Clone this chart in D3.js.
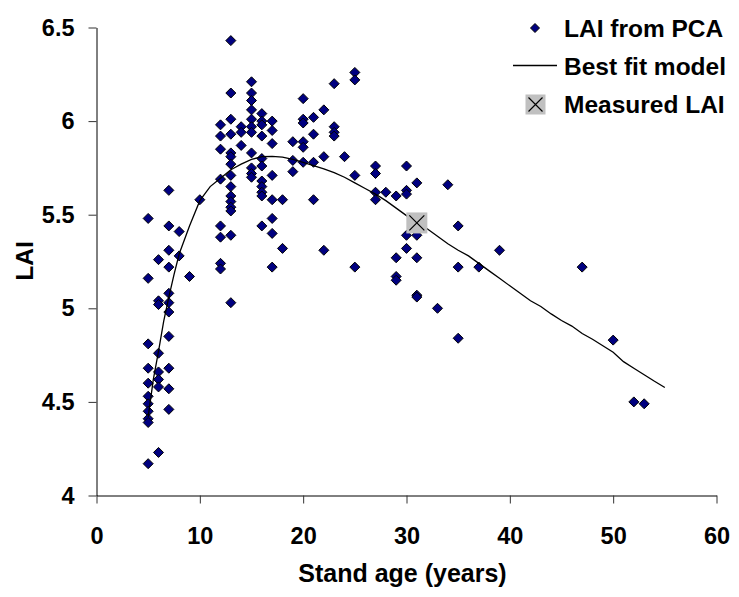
<!DOCTYPE html>
<html>
<head>
<meta charset="utf-8">
<script src="https://cdn.jsdelivr.net/npm/d3@7"></script>
<style>
  body { margin: 0; background: #fff; }
  text { font-family: "Liberation Sans", Arial, sans-serif; font-weight: bold; fill: #000; }
</style>
</head>
<body>
<div id="scatter"></div>
<script>
// LAI from PCA, grouped by stand age (years)
var pcaAges = [5, 6, 7, 8, 9, 10, 12, 13, 14, 15, 16, 17, 18, 19, 20, 21, 22, 23, 24, 25, 27, 28, 29, 30, 31, 33, 34, 35, 37, 39, 47, 50, 52, 53];
var pcaLai = [
    [5.48, 5.16, 4.81, 4.68, 4.60, 4.53, 4.49, 4.45, 4.41, 4.39, 4.17],
    [5.26, 5.04, 5.02, 4.76, 4.66, 4.62, 4.58, 4.23],
    [5.63, 5.44, 5.31, 5.22, 5.08, 5.03, 4.98, 4.85, 4.68, 4.57, 4.46],
    [5.41, 5.28],
    [5.17],
    [5.58],
    [5.98, 5.92, 5.85, 5.69, 5.44, 5.38, 5.24, 5.21],
    [6.43, 6.15, 6.01, 5.93, 5.83, 5.81, 5.77, 5.71, 5.65, 5.60, 5.57, 5.54, 5.52, 5.39, 5.03],
    [5.97, 5.94, 5.87],
    [6.21, 6.15, 6.11, 6.06, 6.01, 5.97, 5.94, 5.83, 5.75, 5.72, 5.70],
    [6.04, 6.00, 5.98, 5.92, 5.80, 5.76, 5.68, 5.65, 5.62, 5.60, 5.44],
    [6.00, 5.95, 5.88, 5.71, 5.58, 5.48, 5.40, 5.22],
    [5.58, 5.32],
    [5.89, 5.79, 5.73],
    [6.12, 6.01, 5.99, 5.89, 5.86, 5.78],
    [6.02, 5.93, 5.78, 5.58],
    [6.06, 5.81, 5.31],
    [6.20, 5.97, 5.94, 5.92],
    [5.81],
    [6.26, 6.22, 5.71, 5.22],
    [5.76, 5.72, 5.62, 5.58],
    [5.62],
    [5.60, 5.27, 5.17, 5.15],
    [5.76, 5.63, 5.61, 5.39, 5.32],
    [5.67, 5.39, 5.27, 5.07, 5.06],
    [5.00],
    [5.66],
    [5.44, 5.22, 4.84],
    [5.22],
    [5.31],
    [5.22],
    [4.83],
    [4.50],
    [4.49]
];

// best fit model
var modelAge = [5, 5.5, 6, 6.5, 7, 7.5, 8, 9, 10, 11, 12, 13, 14, 15, 16, 17, 18, 19, 20, 21, 22, 23, 24, 25, 26, 27, 28, 29, 30, 31, 32, 33, 34, 35, 36, 37, 38, 39, 40, 41, 42, 43, 44, 45, 46, 47, 48, 49, 50, 51, 52, 53, 54, 55];
var modelLai = [4.42, 4.62, 4.77, 4.93, 5.06, 5.18, 5.29, 5.44, 5.575, 5.65, 5.695, 5.74, 5.77, 5.795, 5.81, 5.812, 5.808, 5.795, 5.78, 5.762, 5.745, 5.725, 5.70, 5.67, 5.64, 5.61, 5.575, 5.535, 5.495, 5.455, 5.425, 5.385, 5.345, 5.31, 5.28, 5.24, 5.20, 5.16, 5.12, 5.08, 5.04, 5.01, 4.97, 4.935, 4.905, 4.865, 4.835, 4.80, 4.765, 4.715, 4.68, 4.645, 4.61, 4.577];

var measuredAge = [31];
var measuredLai = [5.456];

var xTicks = [0, 10, 20, 30, 40, 50, 60];
var yTicks = [4, 4.5, 5, 5.5, 6, 6.5];

var legendLabels = ["LAI from PCA", "Best fit model", "Measured LAI"];

// margins + size
var baseWidth = 739;
var baseHeight = 597;
var margin = {top: 27.5, right: 22.5, bottom: 101.5, left: 96.5},
    width = baseWidth - margin.left - margin.right,
    height = baseHeight - margin.top - margin.bottom;

var root = d3.select("#scatter")
    .append("svg")
    .attr("width", baseWidth)
    .attr("height", baseHeight);

var svg = root.append("g")
    .attr("transform", "translate(" + margin.left + "," + margin.top + ")");

var x = d3.scaleLinear().domain([0, 60]).range([0, width]);
var y = d3.scaleLinear().domain([4, 6.5]).range([height, 0]);

// axes
var xAxis = svg.append("g")
    .attr("transform", "translate(0," + height + ")")
    .call(d3.axisBottom(x).tickValues(xTicks).tickSize(8).tickSizeOuter(0).tickPadding(23.5).tickFormat(d => d));

var yAxis = svg.append("g")
    .call(d3.axisLeft(y).tickValues(yTicks).tickSize(8).tickSizeOuter(0).tickPadding(14).tickFormat(d => d));

[xAxis, yAxis].forEach(a => {
    a.select(".domain").attr("stroke", "#000");
    a.selectAll(".tick line").attr("stroke", "#333");
    a.selectAll(".tick text").style("font-size", "23.5px").attr("fill", "#000");
});

// points
var diamond = "M0,-5L5,0L0,5L-5,0Z";
var points = [];
pcaAges.forEach((age, i) => pcaLai[i].forEach(v => points.push({age: age, lai: v})));

svg.selectAll("path.point")
    .data(points)
    .enter()
    .append("path")
    .attr("class", "point")
    .attr("d", diamond)
    .attr("transform", d => "translate(" + x(d.age) + "," + y(d.lai) + ")")
    .style("fill", "#000080")
    .style("stroke", "#000")
    .style("stroke-width", 1);

// model line
var model = modelAge.map((a, i) => ({age: a, lai: modelLai[i]}));
svg.append("path")
    .datum(model)
    .attr("fill", "none")
    .attr("stroke", "#000")
    .attr("stroke-width", 1.3)
    .attr("d", d3.line().x(d => x(d.age)).y(d => y(d.lai)));

// measured LAI
function crossBox(g, s) {
    g.append("rect")
        .attr("x", -s / 2).attr("y", -s / 2)
        .attr("width", s).attr("height", s)
        .style("fill", "#c0c0c0");
    var k = s / 2 - 3;
    g.append("path")
        .attr("d", "M" + -k + "," + -k + "L" + k + "," + k + "M" + k + "," + -k + "L" + -k + "," + k)
        .style("stroke", "#000")
        .style("stroke-width", 1.2);
}
measuredAge.forEach((a, i) => {
    var g = svg.append("g").attr("transform", "translate(" + x(a) + "," + y(measuredLai[i]) + ")");
    crossBox(g, 21);
});

// axis labels
svg.append("text")
    .attr("text-anchor", "middle")
    .attr("x", width / 2 - 4)
    .attr("y", height + 86)
    .style("font-size", "25px")
    .text("Stand age (years)");

svg.append("text")
    .attr("text-anchor", "middle")
    .attr("transform", "rotate(-90)")
    .attr("x", -(261 - margin.top))
    .attr("y", 33 - margin.left)
    .style("font-size", "24.5px")
    .text("LAI");

// legend
var legend = root.append("g");
var rowY = [28, 66, 104.5];

legend.append("path")
    .attr("d", "M0,-4.5L4.5,0L0,4.5L-4.5,0Z")
    .attr("transform", "translate(535," + rowY[0] + ")")
    .style("fill", "#000080")
    .style("stroke", "#000");

legend.append("line")
    .attr("x1", 513).attr("x2", 557)
    .attr("y1", rowY[1] - 0.5).attr("y2", rowY[1] - 0.5)
    .attr("stroke", "#000")
    .attr("stroke-width", 1.3);

crossBox(legend.append("g").attr("transform", "translate(535.5," + rowY[2] + ")"), 20);

legend.selectAll("text")
    .data(legendLabels)
    .enter()
    .append("text")
    .attr("x", 564)
    .attr("y", (d, i) => rowY[i] + 8.5)
    .style("font-size", "24.5px")
    .text(d => d);
</script>
</body>
</html>
